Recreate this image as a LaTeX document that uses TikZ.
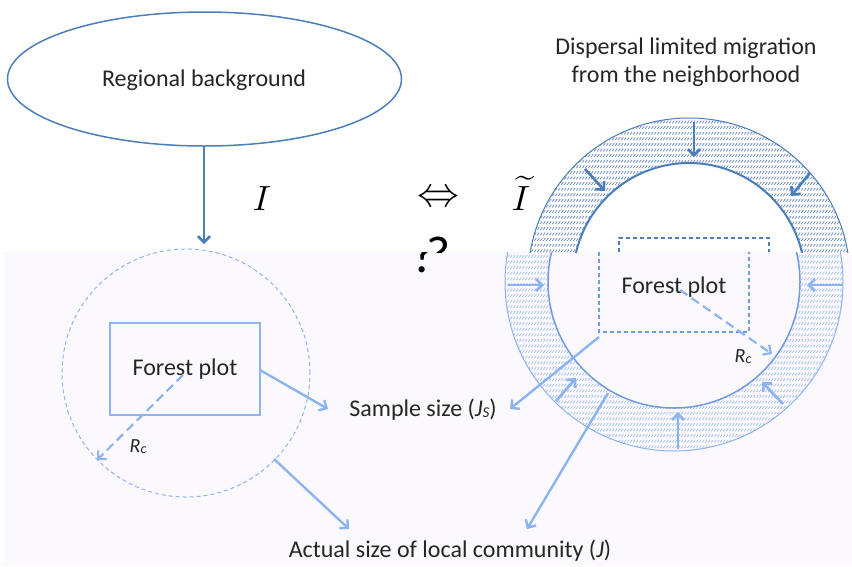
\documentclass[tikz,border=0pt]{standalone}
\usepackage{graphicx}
\usepackage{fontspec}
\setmainfont{Carlito}
\usetikzlibrary{arrows.meta,patterns,shapes.geometric}
\pgfdeclarepatternformonly{dashhatch}{\pgfqpoint{-1pt}{-1pt}}{\pgfqpoint{4pt}{7pt}}{\pgfqpoint{3pt}{5.6pt}}{\pgfsetlinewidth{0.75pt}\pgfpathmoveto{\pgfqpoint{0.3pt}{0.3pt}}\pgfpathlineto{\pgfqpoint{2.2pt}{3pt}}\pgfusepath{stroke}}
\definecolor{dkblue}{RGB}{74,126,187}
\definecolor{ltblue}{RGB}{141,180,240}
\definecolor{midblue}{RGB}{112,155,225}
\definecolor{lav}{RGB}{252,249,254}
\definecolor{txt}{RGB}{38,38,38}
\definecolor{hatchdk}{RGB}{105,138,195}
\definecolor{hatchlt}{RGB}{165,194,240}
\tikzset{
  darr/.style={draw=dkblue, line width=2.6pt, -{Straight Barb[length=6pt,width=12pt]}},
  larr/.style={draw=ltblue, line width=2.4pt, -{Straight Barb[length=6pt,width=12pt]}},
  lbl/.style={text=txt, font=\fontsize{24}{28}\selectfont, inner sep=0pt},
  rclbl/.style={text=txt, font=\fontsize{20}{24}\selectfont\itshape, inner sep=0pt},
  mathlbl/.style={text=black, inner sep=0pt},
  qmark/.style={text=black, font=\fontsize{52}{54}\selectfont, inner sep=0pt, anchor=base},
  dashline/.style={dash pattern=on 4pt off 3pt},
}
\begin{document}
\begin{tikzpicture}[x=1pt,y=-1pt]
\useasboundingbox (0,0) rectangle (852,566);
\fill[white] (0,0) rectangle (852,566);
\fill[lav] (3,252) rectangle (852,566);

% ---------- left part ----------
\node[ellipse, draw=dkblue, line width=1.5pt, minimum width=394pt, minimum height=134pt, inner sep=0pt] (rb) at (204.5,79) {};
\node[lbl] (rbt) at (204,80) {Regional background};
\coordinate (rbbot) at (204,147);
\coordinate (lctop) at (204,244);
\draw[darr] (rbbot) -- (lctop);

\node[mathlbl] (iI) at (262,199) {\scalebox{3.5}{$I$}};
\node[mathlbl] (eqv) at (438,199) {\scalebox{4.2}{$\Leftrightarrow$}};
\node[mathlbl] (iT) at (521,193) {\scalebox{3.5}{$\widetilde{I}$}};

% broken question mark
\begin{scope}
\clip (0,0) rectangle (852,252);
\node[qmark] (q1) at (439,272) {?};
\end{scope}
\begin{scope}
\clip (0,252) rectangle (852,566);
\node[qmark] (q2) at (424,272) {?};
\end{scope}

\node[circle, draw=ltblue, dashline, line width=1pt, minimum size=248pt, inner sep=0pt] (lc) at (186,373) {};
\node[draw=ltblue, line width=1.2pt, minimum width=150pt, minimum height=92pt, text=txt, font=\fontsize{24}{28}\selectfont] (fp) at (185,369) {Forest plot};

\coordinate (rcs) at (183,375);
\coordinate (rce) at (97,460);
\draw[ltblue, line width=2.2pt, dash pattern=on 9pt off 5pt, -{Straight Barb[length=6pt,width=12pt]}] (rcs) -- (rce);
\node[rclbl] (rc1) at (138,447) {R\raisebox{-1pt}{\fontsize{14}{14}\selectfont c}};

\node[lbl] (ss) at (423,410) {Sample size (\textit{J}\raisebox{-1pt}{\fontsize{15}{15}\selectfont\textit{S}})};
\node[lbl] (ac) at (450,551) {Actual size of local community (\textit{J})};

\coordinate (fpr) at (260,370);
\coordinate (ssl) at (328,409);
\draw[larr] (fpr) -- (ssl);
\coordinate (lcp) at (274,459);
\coordinate (acl) at (349,529);
\draw[larr] (lcp) -- (acl);

% ---------- right part ----------
\node[lbl, align=center] (disp) at (686,62) {Dispersal limited migration\\from the neighborhood};

\begin{scope}
\clip (0,0) rectangle (852,252);
\path[pattern=dashhatch, pattern color=hatchdk, even odd rule] (689,279) circle[radius=161] (689,279) circle[radius=116];
\draw[dkblue, line width=1pt] (689,279) circle[radius=161];
\draw[dkblue, line width=2pt] (689,279) circle[radius=116];
\draw[dkblue, line width=1.2pt, dashline] (619,252) -- (619,238) -- (769,238) -- (769,252);
\end{scope}

\begin{scope}
\clip (0,252) rectangle (852,566);
\path[pattern=dashhatch, pattern color=hatchlt, even odd rule] (674,282) circle[radius=169] (674,282) circle[radius=126];
\draw[ltblue, line width=1pt] (674,282) circle[radius=169];
\draw[midblue, line width=1.5pt] (674,282) circle[radius=126];
\draw[midblue, line width=1.2pt, dashline] (599,252) -- (599,332) -- (749,332) -- (749,252);
\end{scope}

% dark ring arrows
\coordinate (ta1) at (694,122); \coordinate (ta2) at (694,157);
\coordinate (la1) at (585,169); \coordinate (la2) at (605,191);
\coordinate (ra1) at (810,173); \coordinate (ra2) at (791,196);
\draw[darr] (ta1) -- (ta2);
\draw[darr] (la1) -- (la2);
\draw[darr] (ra1) -- (ra2);

% light ring arrows
\coordinate (b1s) at (508,285); \coordinate (b1e) at (544,285);
\coordinate (b2s) at (843,285); \coordinate (b2e) at (807,285);
\coordinate (b3s) at (678,449); \coordinate (b3e) at (678,412);
\coordinate (b4s) at (556,401); \coordinate (b4e) at (576,378);
\coordinate (b5s) at (783,404); \coordinate (b5e) at (762,382);
\foreach \s/\e in {b1s/b1e,b2s/b2e,b3s/b3e,b4s/b4e,b5s/b5e}
  \draw[larr, line width=2.7pt] (\s) -- (\e);

\node[lbl] (fp2) at (674,287) {Forest plot};
\coordinate (rcs2) at (680,290);
\coordinate (rce2) at (772,354);
\draw[ltblue, line width=2.2pt, dash pattern=on 9pt off 5pt, -{Straight Barb[length=6pt,width=12pt]}] (rcs2) -- (rce2);
\node[rclbl] (rc2) at (743,357) {R\raisebox{-1pt}{\fontsize{14}{14}\selectfont c}};

\coordinate (rcorner) at (599,337);
\coordinate (ssr) at (510,409);
\draw[larr] (rcorner) -- (ssr);
\coordinate (icp) at (608,393);
\coordinate (acr) at (527,529);
\draw[larr] (icp) -- (acr);
\end{tikzpicture}
\end{document}
